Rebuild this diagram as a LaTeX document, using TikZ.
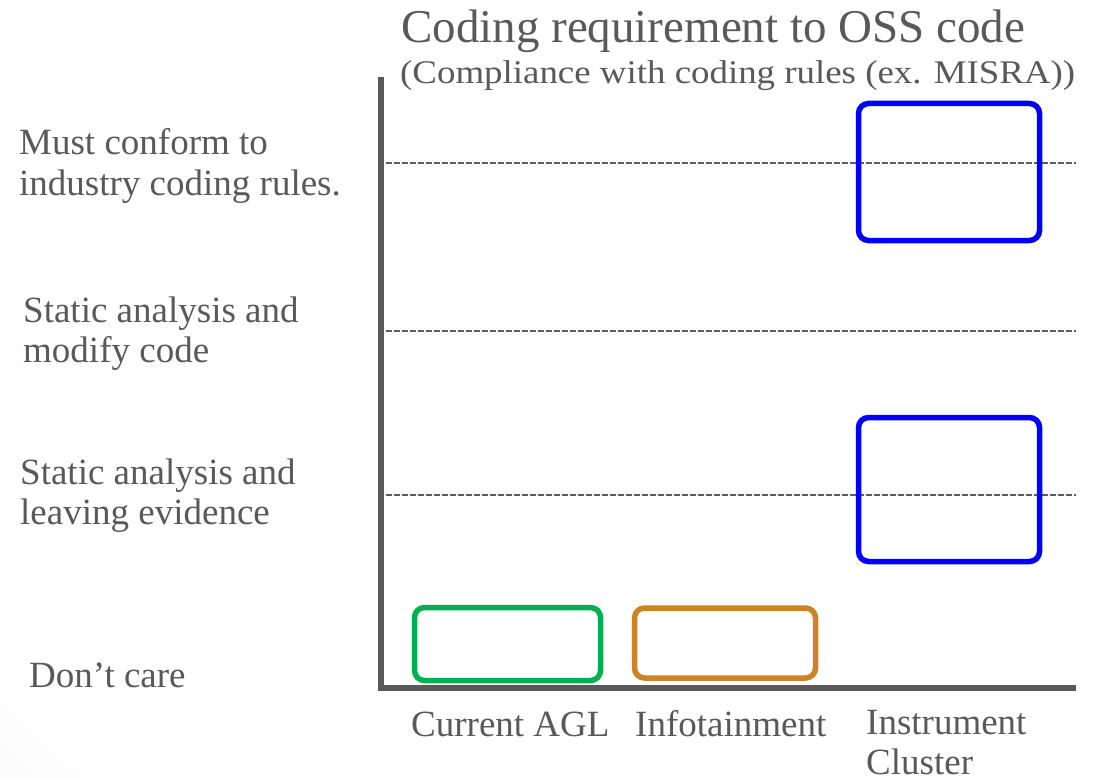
\documentclass[tikz,border=0pt]{standalone}
\usepackage{fontspec}
\usepackage{graphicx}
\setmainfont{Liberation Serif}
\usetikzlibrary{positioning}

\definecolor{inkgray}{HTML}{595959}
\definecolor{dashgray}{HTML}{5E5E5E}
\definecolor{boxblue}{HTML}{0000FF}
\definecolor{boxgreen}{HTML}{00B050}
\definecolor{boxorange}{HTML}{CC8426}

\pgfdeclareradialshading{paper}{\pgfpoint{0bp}{0bp}}{%
  color(0bp)=(white); color(22bp)=(white); color(50bp)=(black!16)}

% multi-line labels are anchored at the baseline of their last line
\tikzset{
  label/.style={text=inkgray, inner sep=0pt, anchor=base west, align=left,
                font=\fontsize{37}{40}\selectfont},
  axis/.style={draw=inkgray, line width=5.5pt},
  level/.style={draw=dashgray, line width=2.5pt, dash pattern=on 5.5pt off 2.5pt},
  region/.style={draw=#1, line width=5.5pt, rounded corners=10pt,
                 inner sep=0pt, fill=none}
}

\begin{document}
\begin{tikzpicture}[x=1pt, y=-1pt]
  \useasboundingbox (0,0) rectangle (1094,778);

  % soft paper background
  \begin{scope}
    \clip (0,0) rectangle (1094,778);
    \shade[shading=paper] (650,50) circle[radius=1000];
  \end{scope}

  % headings
  \node[label, font=\fontsize{47}{50}\selectfont] (title) at (401,43)
    {\resizebox{624pt}{\height}{Coding requirement to OSS code}};
  \node[label, font=\fontsize{33}{36}\selectfont] (subtitle) at (400,84)
    {\resizebox{675pt}{\height}{(Compliance with coding rules (ex. MISRA))}};

  % level labels
  \node[label] (lvl3) at (19,195) {Must conform to\\industry coding rules.};
  \node[label] (lvl2) at (23,362) {Static analysis and\\modify code};
  \node[label] (lvl1) at (20,524) {Static analysis and\\leaving evidence};
  \node[label] (lvl0) at (29,687) {Don’t care};

  % axes
  \coordinate (top)    at (381,77);
  \coordinate (origin) at (381,688);
  \coordinate (right)  at (1076,688);
  \draw[axis] (top) -- (origin) -- (right);

  % level separators
  \coordinate (d3a) at (386,163);  \coordinate (d3b) at (1076,163);
  \coordinate (d2a) at (386,331);  \coordinate (d2b) at (1076,331);
  \coordinate (d1a) at (386,495);  \coordinate (d1b) at (1076,495);
  \draw[level] (d3a) -- (d3b);
  \draw[level] (d2a) -- (d2b);
  \draw[level] (d1a) -- (d1b);

  % requirement ranges per domain
  \node[region=boxgreen, minimum width=186pt, minimum height=73pt]
    (agl) at (507.5,644) {};
  \node[region=boxorange, minimum width=181pt, minimum height=70pt]
    (info) at (725,643) {};
  \node[region=boxblue, minimum width=181pt, minimum height=137pt]
    (icHigh) at (949,172) {};
  \node[region=boxblue, minimum width=181pt, minimum height=144pt]
    (icLow) at (949,489.5) {};

  % domain labels
  \node[label] (cAGL)  at (411,736) {Current AGL};
  \node[label] (cInfo) at (635,736) {Infotainment};
  \node[label] (cIC)   at (866,774) {Instrument\\Cluster};
\end{tikzpicture}
\end{document}
